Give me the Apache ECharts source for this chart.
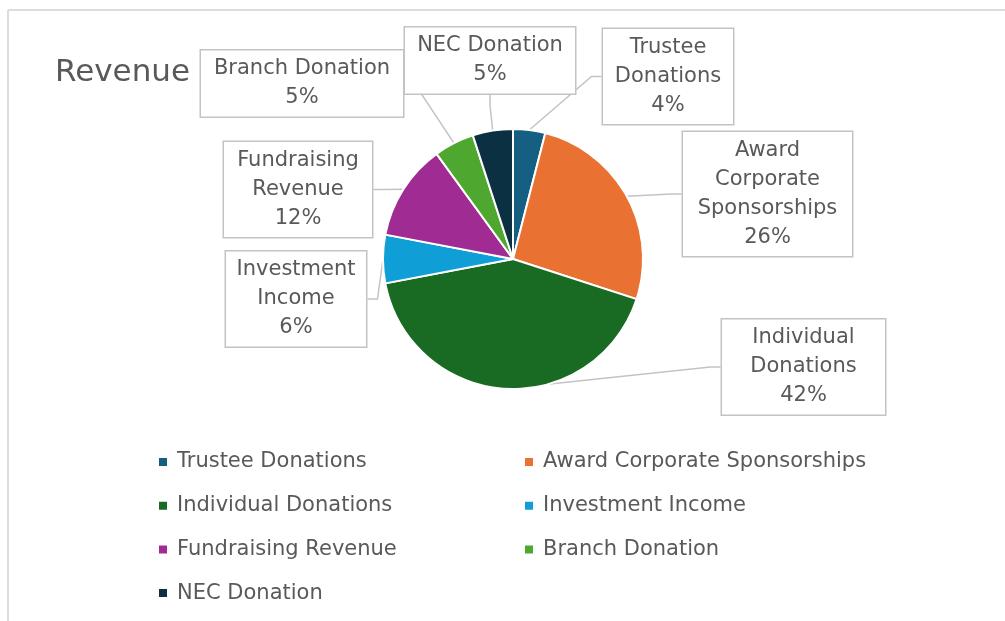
<!DOCTYPE html>
<html>
<head>
<meta charset="utf-8">
<script src="https://cdn.jsdelivr.net/npm/echarts@6/dist/echarts.min.js"></script>
<style>
  html, body { margin: 0; padding: 0; background: #fff; }
  #chart { width: 1005px; height: 621px; }
</style>
</head>
<body>
<div id="chart"></div>
<script>
// ---- data ----
const categories = [
  'Trustee Donations',
  'Award Corporate Sponsorships',
  'Individual Donations',
  'Investment Income',
  'Fundraising Revenue',
  'Branch Donation',
  'NEC Donation'
];
const values = [4, 26, 42, 6, 12, 5, 5];
const labelTexts = [
  'Trustee\nDonations',
  'Award\nCorporate\nSponsorships',
  'Individual\nDonations',
  'Investment\nIncome',
  'Fundraising\nRevenue',
  'Branch Donation',
  'NEC Donation'
];
const legendCol1 = ['Trustee Donations', 'Individual Donations', 'Fundraising Revenue', 'NEC Donation'];
const legendCol2 = ['Award Corporate Sponsorships', 'Investment Income', 'Branch Donation'];

// ---- styling / layout (not data) ----
const colors = ['#156082', '#E97132', '#196B24', '#0F9ED5', '#A02B93', '#4EA72E', '#0A3041'];
// label box centre and width, per slice
const labelBoxes = [
  { cx: 668, cy: 76.5, w: 130 },
  { cx: 767.5, cy: 194, w: 169 },
  { cx: 803.5, cy: 367, w: 163 },
  { cx: 296, cy: 299, w: 140 },
  { cx: 298, cy: 189.5, w: 148 },
  { cx: 302, cy: 83.5, w: 202 },
  { cx: 490, cy: 60.5, w: 170 }
];
const FONT = 'DejaVu Sans';
const TEXT = '#595959';

const chart = echarts.init(document.getElementById('chart'), null, { renderer: 'canvas' });

const seriesData = categories.map((name, i) => ({
  name: name,
  value: values[i],
  label: { width: labelBoxes[i].w }
}));

const legendBase = {
  orient: 'vertical',
  top: 450,
  padding: 0,
  icon: 'rect',
  itemWidth: 10,
  itemHeight: 10,
  itemGap: 19.7,
  selectedMode: false,
  textStyle: { color: TEXT, fontSize: 21, fontFamily: FONT, lineHeight: 24, padding: [0, 0, 0, 4] }
};

chart.setOption({
  animation: false,
  color: colors,
  title: {
    text: 'Revenue',
    left: 50,
    top: 52,
    textStyle: { color: TEXT, fontSize: 31, fontWeight: 'normal', fontFamily: FONT }
  },
  graphic: [
    { type: 'line', shape: { x1: 8, y1: 10, x2: 1005, y2: 10 }, style: { stroke: '#dcdcdc', lineWidth: 2 } },
    { type: 'line', shape: { x1: 8, y1: 10, x2: 8, y2: 621 }, style: { stroke: '#dcdcdc', lineWidth: 2 } }
  ],
  legend: [
    Object.assign({}, legendBase, { left: 157, data: legendCol1 }),
    Object.assign({}, legendBase, { left: 523, data: legendCol2 })
  ],
  series: [{
    type: 'pie',
    center: [513, 259],
    radius: 130,
    startAngle: 90,
    clockwise: true,
    itemStyle: { borderColor: '#ffffff', borderWidth: 2 },
    label: {
      show: true,
      position: 'outside',
      formatter: (p) => labelTexts[p.dataIndex] + '\n' + Math.round(p.percent) + '%',
      color: TEXT,
      fontSize: 21,
      fontFamily: FONT,
      lineHeight: 29,
      align: 'center',
      backgroundColor: '#ffffff',
      borderColor: '#c3c3c3',
      borderWidth: 1.5,
      padding: [4, 0]
    },
    labelLine: {
      show: true,
      length: 10,
      length2: 10,
      lineStyle: { color: '#c3c3c3', width: 1.5 }
    },
    labelLayout: (params) => {
      const b = labelBoxes[params.dataIndex];
      return { x: b.cx, y: b.cy, align: 'center', verticalAlign: 'middle', hideOverlap: false };
    },
    emphasis: { disabled: true },
    data: seriesData
  }]
});
</script>
</body>
</html>
